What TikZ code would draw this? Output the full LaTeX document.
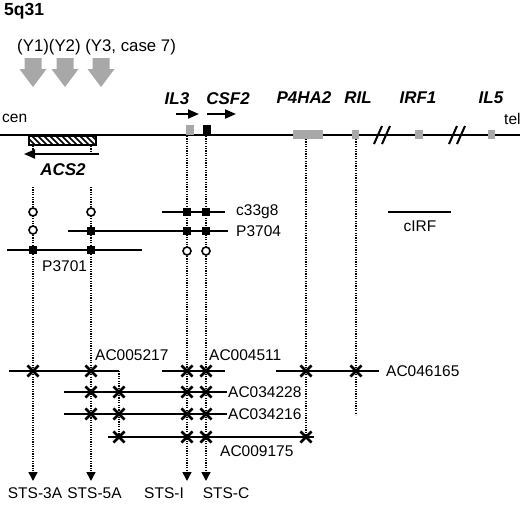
\documentclass[tikz,border=0pt]{standalone}
\usepackage{fontspec}
\setmainfont{Liberation Sans}
\usetikzlibrary{arrows.meta,shapes.misc}
\definecolor{lgray}{HTML}{A8A8A8}
\tikzset{
  txt/.style={inner sep=0pt,font=\fontsize{15.5}{18}\selectfont},
  gene/.style={inner sep=0pt,font=\fontsize{17}{20}\selectfont\bfseries\itshape},
  chrom/.style={line width=2.2pt},
  probe/.style={line width=2pt},
  vdot/.style={line width=1.6pt,dash pattern=on 1.2pt off 1.2pt},
  stsarrow/.style={vdot,-{Triangle[length=9pt,width=9pt]}},
  dirarrow/.style={line width=2pt,-{Triangle[length=11pt,width=9pt]}},
  sq/.style={rectangle,fill=black,minimum size=8pt,inner sep=0pt},
  circ/.style={circle,draw=black,line width=1.6pt,minimum size=8pt,inner sep=0pt,fill=white,
     path picture={\fill (path picture bounding box.center) circle (1.1pt);}},
  xm/.style={cross out,draw=black,line width=2.6pt,minimum size=8.5pt,inner sep=0pt},
  blockarrow/.pic={\fill[lgray] (-8.5,0) -- (8.5,0) -- (8.5,11) -- (13.5,11) -- (0,29) -- (-13.5,11) -- (-8.5,11) -- cycle;}
}
\begin{document}
\begin{tikzpicture}[x=1pt,y=-1pt]
\useasboundingbox (0,0) rectangle (520,507);
% title
\node[inner sep=0pt,anchor=west,font=\fontsize{17.5}{20}\selectfont\bfseries] (title) at (4,11) {5q31};
\node[txt,anchor=west,font=\fontsize{16.8}{20}\selectfont] (ylab) at (17,47) {(Y1)(Y2) (Y3, case 7)};
\pic at (33,58) {blockarrow};
\pic at (65,58) {blockarrow};
\pic at (101,58) {blockarrow};
% chromosome
\coordinate (cenend) at (0,135);
\coordinate (telend) at (520,135);
\draw[chrom] (cenend) -- (telend);
\node[txt,anchor=west] (cen) at (2,118) {cen};
\node[txt,anchor=west] (tel) at (504,119) {tel};
% break marks
\foreach \bx in {378,386,453,461}{
  \draw[line width=2pt] (\bx-4,144) -- (\bx+4,126);
}
% genes
\begin{scope}
  \clip (29,136) rectangle (96,145);
  \foreach \hx in {20,26,...,110}{
    \draw[line width=1.6pt] (\hx,136) -- (\hx+9,145);
  }
\end{scope}
\draw[line width=1.3pt] (29,136) rectangle (96,145);
\fill[lgray] (186,125) rectangle (194,135);
\fill[black] (203,125) rectangle (211,135);
\fill[lgray] (293,130) rectangle (323,139);
\fill[lgray] (352,130) rectangle (359,139);
\fill[lgray] (415,130) rectangle (423,139);
\fill[lgray] (488,130) rectangle (495,139);
\node[gene] (IL3) at (177,99) {IL3};
\node[gene] (CSF2) at (228,99) {CSF2};
\node[gene] (P4HA2) at (304,98) {P4HA2};
\node[gene] (RIL) at (358,98) {RIL};
\node[gene] (IRF1) at (418,98) {IRF1};
\node[gene] (IL5) at (491,98) {IL5};
\node[gene] (ACS2) at (63,170) {ACS2};
% direction arrows
\coordinate (il3a) at (176,114); \coordinate (il3b) at (199,114);
\coordinate (csfa) at (207,114); \coordinate (csfb) at (236,114);
\coordinate (acsa) at (99,154); \coordinate (acsb) at (24,154);
\draw[dirarrow] (il3a) -- (il3b);
\draw[dirarrow] (csfa) -- (csfb);
\draw[dirarrow] (acsa) -- (acsb);
% vertical dotted lines
\coordinate (v1a) at (33,146); \coordinate (v1b) at (33,151); \coordinate (v1c) at (33,187); \coordinate (v1d) at (33,481);
\coordinate (v2a) at (91,146); \coordinate (v2b) at (91,151); \coordinate (v2c) at (91,187); \coordinate (v2d) at (91,481);
\coordinate (v3a) at (187,136); \coordinate (v3d) at (187,481);
\coordinate (v4a) at (206,136); \coordinate (v4d) at (206,481);
\coordinate (v5a) at (306,139); \coordinate (v5d) at (306,437);
\coordinate (v6a) at (356,139); \coordinate (v6d) at (356,415);
\coordinate (v7a) at (119,371); \coordinate (v7d) at (119,437);
\draw[vdot] (v1a) -- (v1b);
\draw[vdot] (v2a) -- (v2b);
\draw[stsarrow] (v1c) -- (v1d);
\draw[stsarrow] (v2c) -- (v2d);
\draw[stsarrow] (v3a) -- (v3d);
\draw[stsarrow] (v4a) -- (v4d);
\draw[vdot] (v5a) -- (v5d);
\draw[vdot] (v6a) -- (v6d);
\draw[vdot] (v7a) -- (v7d);
% probes (BAC/PAC)
\coordinate (c33a) at (162,212); \coordinate (c33b) at (225,212);
\coordinate (p04a) at (68,231); \coordinate (p04b) at (228,231);
\coordinate (p01a) at (7,250); \coordinate (p01b) at (142,250);
\coordinate (cirfa) at (388,212); \coordinate (cirfb) at (451,212);
\draw[probe] (c33a) -- (c33b);
\draw[probe] (p04a) -- (p04b);
\draw[probe] (p01a) -- (p01b);
\draw[probe] (cirfa) -- (cirfb);
\node[txt,anchor=west] (c33g8) at (236,212) {c33g8};
\node[txt,anchor=west] (P3704) at (236,231) {P3704};
\node[txt,anchor=west] (P3701) at (42,266) {P3701};
\node[txt] (cIRF) at (420,226) {cIRF};
\node[circ] (o1) at (33,212) {};
\node[circ] (o2) at (33,230) {};
\node[circ] (o3) at (91,212) {};
\node[circ] (o4) at (187,251) {};
\node[circ] (o5) at (206,251) {};
\node[sq] (s1) at (187,212) {};
\node[sq] (s2) at (206,212) {};
\node[sq] (s3) at (91,231) {};
\node[sq] (s4) at (187,231) {};
\node[sq] (s5) at (206,231) {};
\node[sq] (s6) at (33,250) {};
\node[sq] (s7) at (91,250) {};
% AC contigs
\coordinate (a17a) at (9,371); \coordinate (a17b) at (119,371);
\coordinate (a11a) at (162,371); \coordinate (a11b) at (225,371);
\coordinate (a65a) at (276,371); \coordinate (a65b) at (379,371);
\coordinate (a28a) at (64,392); \coordinate (a28b) at (227,392);
\coordinate (a16a) at (64,414); \coordinate (a16b) at (227,414);
\coordinate (a75a) at (108,437); \coordinate (a75b) at (314,437);
\draw[probe] (a17a) -- (a17b);
\draw[probe] (a11a) -- (a11b);
\draw[probe] (a65a) -- (a65b);
\draw[probe] (a28a) -- (a28b);
\draw[probe] (a16a) -- (a16b);
\draw[probe] (a75a) -- (a75b);
\node[txt,anchor=west] (AC005217) at (95,355) {AC005217};
\node[txt,anchor=west] (AC004511) at (209,355) {AC004511};
\node[txt,anchor=west] (AC046165) at (386,371) {AC046165};
\node[txt,anchor=west] (AC034228) at (228,392) {AC034228};
\node[txt,anchor=west] (AC034216) at (228,414) {AC034216};
\node[txt,anchor=west] (AC009175) at (220,451) {AC009175};
\foreach \cx/\cy/\nm in {33/371/x1,91/371/x2,187/371/x3,206/371/x4,306/371/x5,356/371/x6,
  91/392/x7,119/392/x8,187/392/x9,206/392/x10,
  91/414/x11,119/414/x12,187/414/x13,206/414/x14,
  119/437/x15,187/437/x16,206/437/x17,306/437/x18}{
  \node[xm] (\nm) at (\cx,\cy) {};
}
% STS labels
\node[txt] (sts3a) at (35,493) {STS-3A};
\node[txt] (sts5a) at (94.5,493) {STS-5A};
\node[txt] (stsi) at (164,493) {STS-I};
\node[txt] (stsc) at (226,493) {STS-C};
\end{tikzpicture}
\end{document}
